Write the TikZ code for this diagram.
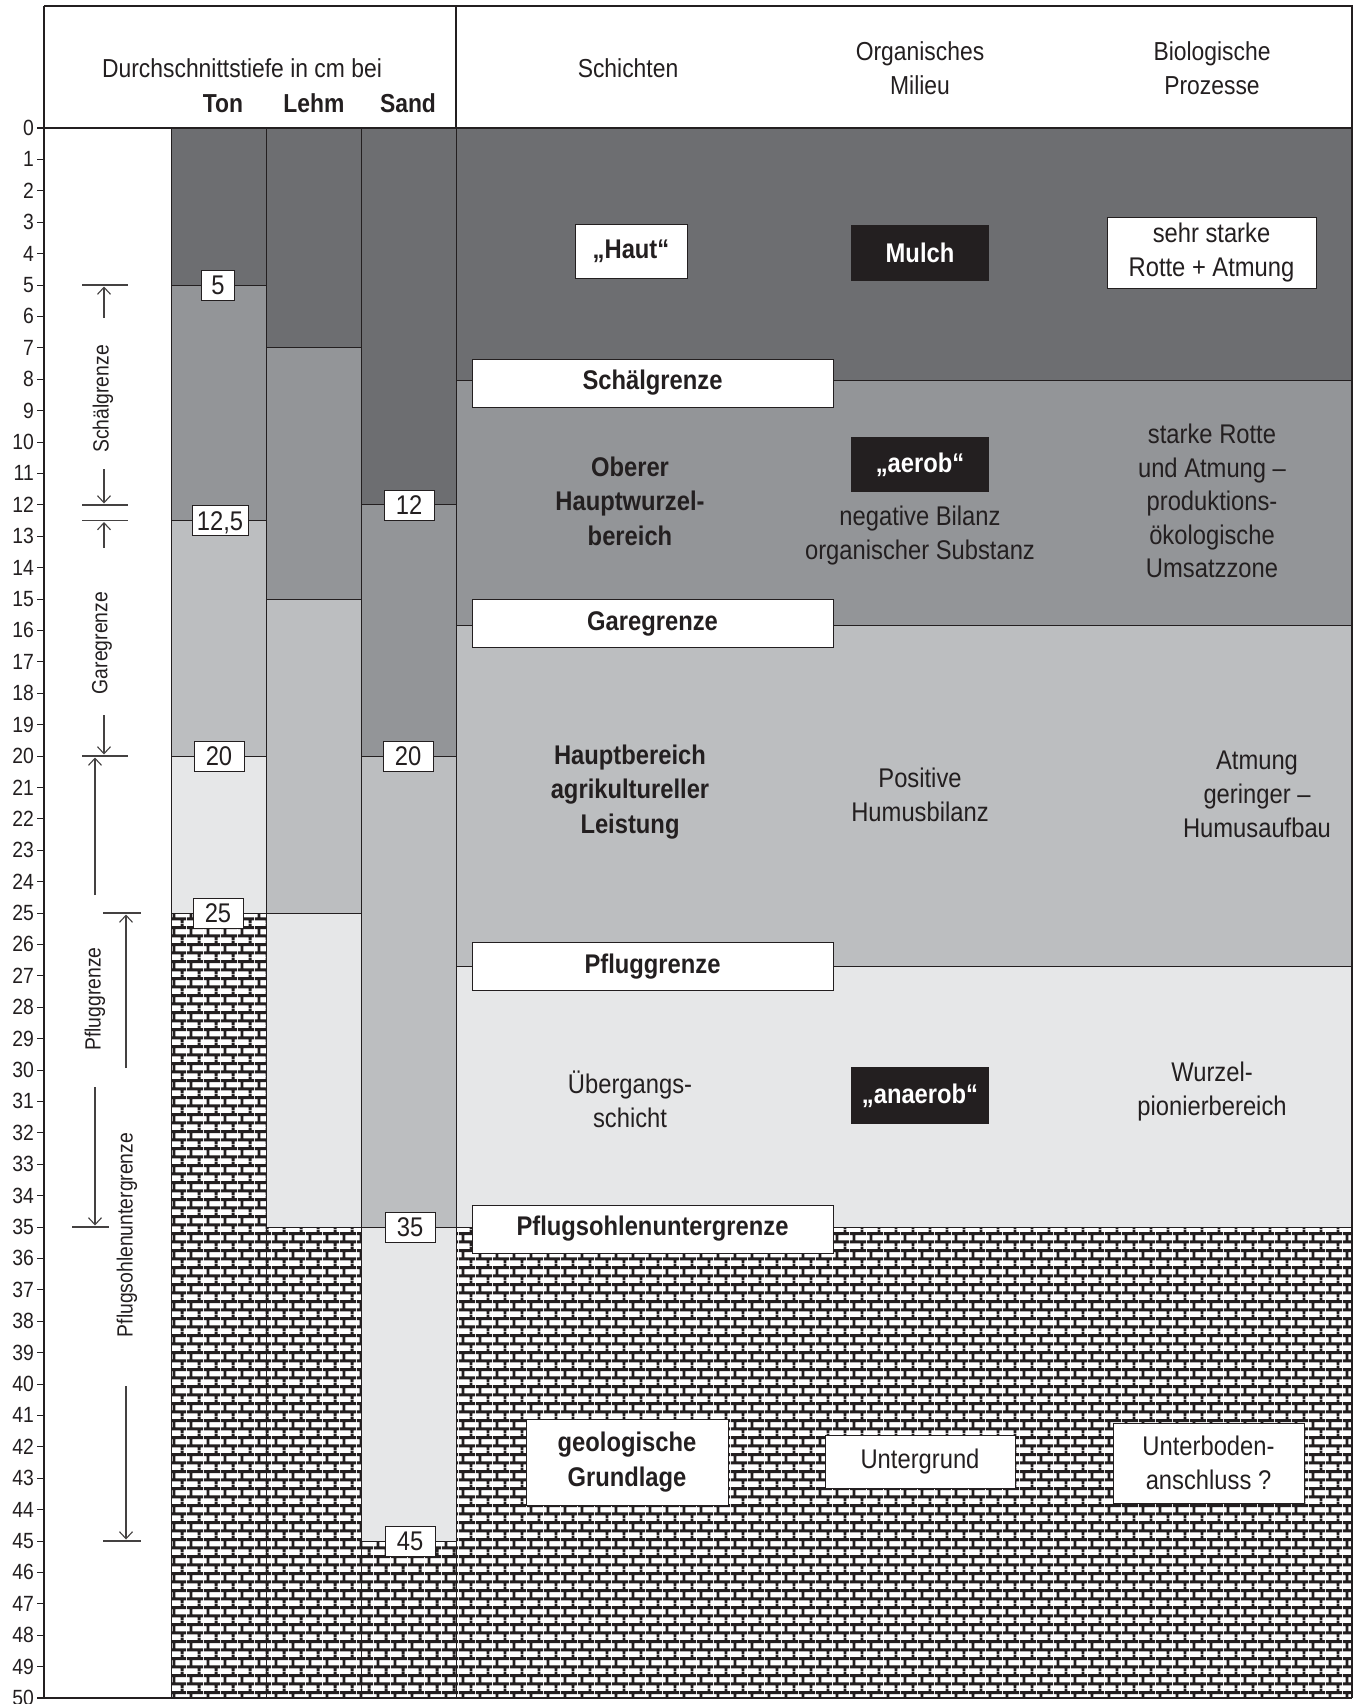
\documentclass[tikz,border=0pt]{standalone}
\usepackage{fontspec}
\setmainfont{Liberation Sans}[FakeStretch=0.88]
\usetikzlibrary{arrows.meta,patterns}
\definecolor{ink}{HTML}{231F20}
\definecolor{gA}{HTML}{6D6E71}
\definecolor{gB}{HTML}{939598}
\definecolor{gC}{HTML}{BCBEC0}
\definecolor{gD}{HTML}{E6E7E8}
\pgfdeclarepatternformonly{soilbricks}{\pgfqpoint{0pt}{0pt}}{\pgfqpoint{17pt}{17.2pt}}{\pgfqpoint{17pt}{17.2pt}}{%
  \pgfsetlinewidth{3pt}%
  \pgfpathmoveto{\pgfqpoint{0pt}{4.3pt}}\pgfpathlineto{\pgfqpoint{17pt}{4.3pt}}%
  \pgfpathmoveto{\pgfqpoint{0pt}{12.9pt}}\pgfpathlineto{\pgfqpoint{17pt}{12.9pt}}%
  \pgfpathmoveto{\pgfqpoint{4.25pt}{4.3pt}}\pgfpathlineto{\pgfqpoint{4.25pt}{12.9pt}}%
  \pgfpathmoveto{\pgfqpoint{12.75pt}{12.9pt}}\pgfpathlineto{\pgfqpoint{12.75pt}{17.2pt}}%
  \pgfpathmoveto{\pgfqpoint{12.75pt}{0pt}}\pgfpathlineto{\pgfqpoint{12.75pt}{4.3pt}}%
  \pgfusepath{stroke}}
\tikzset{
  txt/.style={font=\fontsize{27}{34}\selectfont, text=ink, align=center, inner sep=0pt},
  btxt/.style={font=\fontsize{27}{34.5}\selectfont\bfseries, text=ink, align=center, inner sep=0pt},
  hdr/.style={font=\fontsize{26}{34}\selectfont, text=ink, align=center, inner sep=0pt},
  hdrb/.style={font=\fontsize{26}{34}\selectfont\bfseries, text=ink, inner sep=0pt},
  ticklab/.style={font=\fontsize{22}{24}\selectfont, text=ink, inner sep=0pt, anchor=east},
  rotlab/.style={font=\fontsize{22}{24}\selectfont, text=ink, inner sep=0pt, rotate=90},
  lay/.style={draw=ink, line width=0.9pt},
  brick/.style={pattern=soilbricks, pattern color=ink},
  frame/.style={draw=ink, line width=1.1pt},
  wbox/.style={btxt, draw=ink, line width=1pt, fill=white, minimum width=361pt, minimum height=48pt},
  kbox/.style={btxt, fill=ink, text=white, minimum width=138pt, minimum height=55pt},
  numbox/.style={draw=ink, line width=0.9pt, fill=white, font=\fontsize{27}{30}\selectfont, text=ink,
    minimum height=30pt, inner xsep=3pt, inner ysep=0pt, text height=19.3pt, text depth=0pt},
  dim/.style={draw=ink!85, line width=1.1pt},
  tipv/.style={-{Straight Barb[length=7pt,width=13pt]}},
}
\begin{document}
\begin{tikzpicture}[x=1pt,y=-1pt]
\useasboundingbox (0,0) rectangle (1355,1704);
\fill[white] (0,0) rectangle (1355,1704);

% ---- Ton column
\path[lay, fill=gA] (171,128) rectangle (266,285);
\path[lay, fill=gB] (171,285) rectangle (266,520.5);
\path[lay, fill=gC] (171,520.5) rectangle (266,756);
\path[lay, fill=gD] (171,756) rectangle (266,913);
\fill[white] (171,913) rectangle (266,1698);
\fill[brick] (171,913) rectangle (266,1698);
% ---- Lehm column
\path[lay, fill=gA] (266,128) rectangle (361,347.8);
\path[lay, fill=gB] (266,347.8) rectangle (361,599);
\path[lay, fill=gC] (266,599) rectangle (361,913);
\path[lay, fill=gD] (266,913) rectangle (361,1227);
\fill[white] (266,1227) rectangle (361,1698);
\fill[brick] (266,1227) rectangle (361,1698);
% ---- Sand column
\path[lay, fill=gA] (361,128) rectangle (456,504.8);
\path[lay, fill=gB] (361,504.8) rectangle (456,756);
\path[lay, fill=gC] (361,756) rectangle (456,1227);
\path[lay, fill=gD] (361,1227) rectangle (456,1541);
\fill[white] (361,1541) rectangle (456,1698);
\fill[brick] (361,1541) rectangle (456,1698);
% ---- right area
\path[lay, fill=gA] (456,128) rectangle (1352,380);
\path[lay, fill=gB] (456,380) rectangle (1352,625);
\path[lay, fill=gC] (456,625) rectangle (1352,966);
\path[lay, fill=gD] (456,966) rectangle (1352,1227);
\fill[white] (456,1227) rectangle (1352,1698);
\fill[brick] (456,1227) rectangle (1352,1698);
\draw[lay] (456,1227) -- (1352,1227);
\draw[lay] (361,1541) -- (456,1541);
\draw[lay] (266,1227) -- (361,1227);
\draw[lay] (171,913) -- (266,913);
% column separators
\foreach \xx in {171,266,361,456} \draw[lay] (\xx,128) -- (\xx,1698);

% ---- frame
\draw[frame] (44,6) -- (1352,6) -- (1352,1698);
\draw[frame] (44,6) -- (44,1698);
\draw[frame] (456,6) -- (456,128);
\draw[frame] (37,128) -- (1352,128);
\draw[frame] (37,1698) -- (1352,1698);

% ---- ticks
\foreach \i in {0,...,50} {
  \draw[ink, line width=1pt] (37,{128+31.4*\i}) -- (44,{128+31.4*\i});
  \node[ticklab] (tl\i) at (34,{128+31.4*\i}) {\i};
}

% ---- header
\node[hdr, anchor=base] (hdurch) at (242,78) {Durchschnittstiefe in cm bei};
\node[hdrb, anchor=base] (hton) at (223,113) {Ton};
\node[hdrb, anchor=base] (hlehm) at (314,113) {Lehm};
\node[hdrb, anchor=base] (hsand) at (408,113) {Sand};
\node[hdr] (hsch) at (628,68) {Schichten};
\node[hdr] (horg) at (920,68) {Organisches\\Milieu};
\node[hdr] (hbio) at (1212,68) {Biologische\\Prozesse};

% ---- depth labels on columns
\node[numbox, minimum width=33pt] (n5) at (218,285) {5};
\node[numbox, minimum width=56pt] (n125) at (220,520.5) {12,5};
\node[numbox, minimum width=50pt] (n12) at (409,505) {12};
\node[numbox, minimum width=50pt] (n20a) at (219,756) {20};
\node[numbox, minimum width=50pt] (n20b) at (408,756) {20};
\node[numbox, minimum width=50pt] (n25) at (218,913) {25};
\node[numbox, minimum width=50pt] (n35) at (410,1227) {35};
\node[numbox, minimum width=50pt] (n45) at (410,1541) {45};

% ---- left dimension annotations
\draw[dim] (82,285) -- (128,285);
\draw[dim] (82,505) -- (128,505);
\draw[dim] (82,520.5) -- (128,520.5);
\draw[dim] (82,756) -- (128,756);
\draw[dim] (103,913) -- (141,913);
\draw[dim] (72,1227) -- (109,1227);
\draw[dim] (103,1541) -- (141,1541);
\draw[dim, tipv] (104,318) -- (104,286.5);
\draw[dim, tipv] (104,469) -- (104,503.5);
\draw[dim, tipv] (104,548) -- (104,522);
\draw[dim, tipv] (104,715) -- (104,754.5);
\draw[dim, tipv] (95,895) -- (95,757.5);
\draw[dim, tipv] (126,1068) -- (126,914.5);
\draw[dim, tipv] (95,1087) -- (95,1225.5);
\draw[dim, tipv] (126,1386) -- (126,1539.5);
\node[rotlab] (lschael) at (103,399) {Schälgrenze};
\node[rotlab] (lgare) at (102,643) {Garegrenze};
\node[rotlab] (lpflug) at (95,999) {Pfluggrenze};
\node[rotlab] (lsohle) at (127,1235) {Pflugsohlenuntergrenze};

% ---- right area: boundary boxes
\node[wbox] (bschael) at (652.5,383) {Schälgrenze};
\node[wbox] (bgare) at (652.5,623.5) {Garegrenze};
\node[wbox] (bpflug) at (652.5,966.5) {Pfluggrenze};
\node[wbox] (bsohle) at (652.5,1229) {Pflugsohlenuntergrenze};

% ---- layer 1
\node[btxt, draw=ink, line width=1pt, fill=white, minimum width=112pt, minimum height=53pt] (haut) at (631,251.5) {„Haut“};
\node[kbox, minimum height=56pt] (mulch) at (920,253) {Mulch};
\node[txt, draw=ink, line width=1pt, fill=white, minimum width=209pt, minimum height=70pt] (sehr) at (1211.5,253) {sehr starke\\Rotte + Atmung};
% ---- layer 2
\node[btxt] (oberer) at (630,501) {Oberer\\Hauptwurzel-\\bereich};
\node[kbox] (aerob) at (920,464.5) {„aerob“};
\node[txt] (negbil) at (920,536) {negative Bilanz\\organischer Substanz};
\node[txt, font=\fontsize{27}{33.5}\selectfont] (starke) at (1212,501) {starke Rotte\\und Atmung –\\produktions-\\ökologische\\Umsatzzone};
% ---- layer 3
\node[btxt] (haupt) at (630,792) {Hauptbereich\\agrikultureller\\Leistung};
\node[txt] (posit) at (920,795) {Positive\\Humusbilanz};
\node[txt] (atmung) at (1257,794) {Atmung\\geringer –\\Humusaufbau};
% ---- layer 4
\node[txt] (uebergang) at (630,1099) {Übergangs-\\schicht};
\node[kbox, minimum height=57pt] (anaerob) at (920,1095.5) {„anaerob“};
\node[txt] (wurzel) at (1212,1092) {Wurzel-\\pionierbereich};
% ---- layer 5
\node[btxt, draw=ink, line width=1pt, fill=white, minimum width=202pt, minimum height=86pt] (geo) at (627,1462) {geologische\\Grundlage};
\node[txt, draw=ink, line width=1pt, fill=white, minimum width=190pt, minimum height=53pt] (unterg) at (920,1461.5) {Untergrund};
\node[txt, draw=ink, line width=1pt, fill=white, minimum width=191pt, minimum height=80pt] (unterb) at (1208.5,1463) {Unterboden-\\anschluss ?};
\end{tikzpicture}
\end{document}
